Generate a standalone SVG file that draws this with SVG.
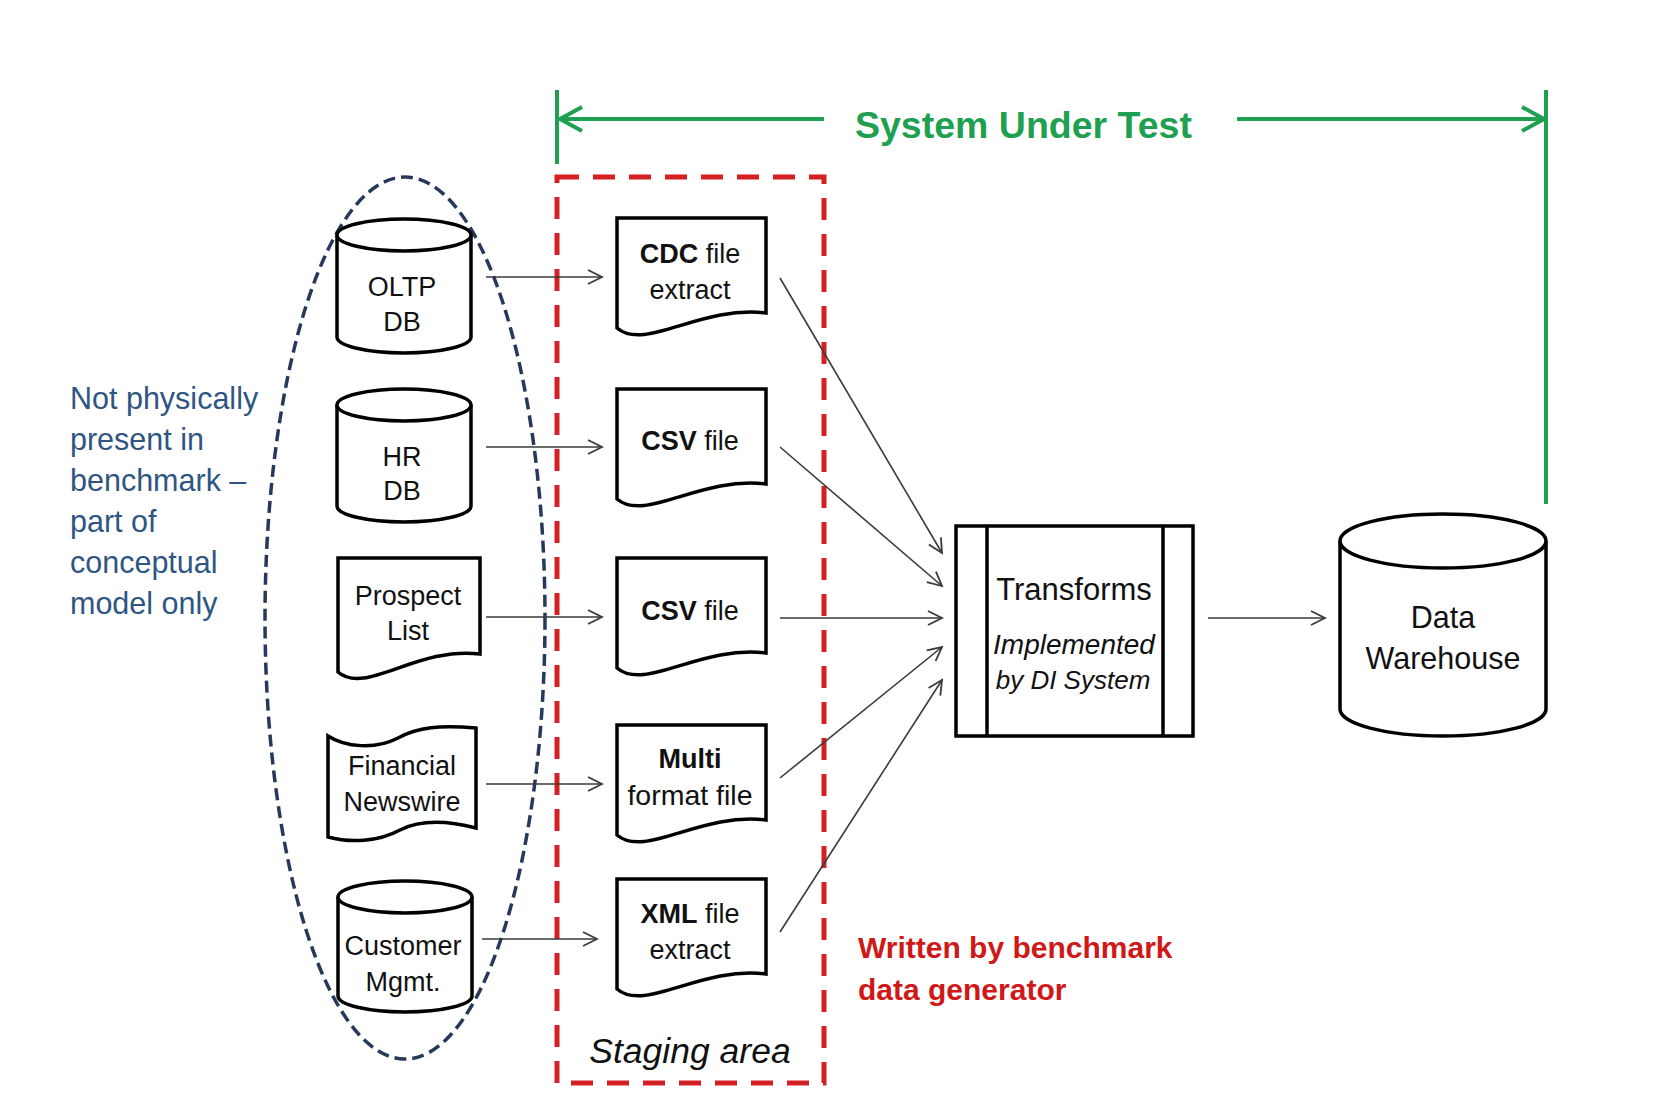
<svg xmlns="http://www.w3.org/2000/svg" width="1660" height="1118" viewBox="0 0 1660 1118">
<style>
.shape{fill:#fff;stroke:#000;stroke-width:3.5}
.lbl{font-family:"Liberation Sans",Arial,sans-serif;font-size:27px;fill:#111;text-anchor:middle}
.b{font-weight:bold}
.conn{stroke:#3a3a3a;stroke-width:1.6;fill:none;marker-end:url(#ah)}
.green{stroke:#1ea050;stroke-width:4;fill:none}
</style>
<defs>
<marker id="ah" markerUnits="userSpaceOnUse" markerWidth="18" markerHeight="18" refX="15" refY="8" orient="auto">
<path d="M1,1 L15,8 L1,15" fill="none" stroke="#3a3a3a" stroke-width="1.8"/>
</marker>
<marker id="gh" markerUnits="userSpaceOnUse" markerWidth="30" markerHeight="30" refX="24" refY="14" orient="auto">
<path d="M2,2 L24,14 L2,26" fill="none" stroke="#1ea050" stroke-width="4"/>
</marker>
</defs>
<rect width="1660" height="1118" fill="#fff"/>

<!-- System under test bracket -->
<g id="sut">
<line class="green" x1="557" y1="90" x2="557" y2="164"/>
<line class="green" x1="824" y1="119" x2="560" y2="119" marker-end="url(#gh)"/>
<line class="green" x1="1237" y1="119" x2="1544" y2="119" marker-end="url(#gh)"/>
<line class="green" x1="1546" y1="90" x2="1546" y2="504"/>
<text x="855" y="138" font-family="Liberation Sans,Arial,sans-serif" font-size="37.5" font-weight="bold" fill="#1ea050">System Under Test</text>
</g>

<!-- conceptual sources ellipse -->
<g id="conceptual">
<ellipse cx="405" cy="618" rx="140" ry="441" fill="none" stroke="#26395a" stroke-width="3.5" stroke-dasharray="12 6"/>
<text font-family="Liberation Sans,Arial,sans-serif" font-size="30.5" fill="#2f5583">
<tspan x="70" y="409">Not physically</tspan>
<tspan x="70" y="450">present in</tspan>
<tspan x="70" y="491">benchmark –</tspan>
<tspan x="70" y="532">part of</tspan>
<tspan x="70" y="573">conceptual</tspan>
<tspan x="70" y="614">model only</tspan>
</text>
</g>

<!-- staging area -->
<g id="staging">
<rect x="557" y="177" width="267" height="906" fill="none" stroke="#d42020" stroke-width="5" stroke-dasharray="22 14"/>
<text x="690" y="1063" font-family="Liberation Sans,Arial,sans-serif" font-size="35.5" font-style="italic" fill="#111" text-anchor="middle">Staging area</text>
</g>

<g id="oltp">
<path class="shape" d="M337,235 V337 A67,16 0 0 0 471,337 V235"/>
<ellipse class="shape" cx="404" cy="235" rx="67" ry="16"/>
<text class="lbl" x="402" y="296">OLTP</text>
<text class="lbl" x="402" y="331">DB</text>
</g>

<g id="hr">
<path class="shape" d="M337,405 V506 A67,16 0 0 0 471,506 V405"/>
<ellipse class="shape" cx="404" cy="405" rx="67" ry="16"/>
<text class="lbl" x="402" y="466">HR</text>
<text class="lbl" x="402" y="500">DB</text>
</g>

<g id="prospect">
<path class="shape" d="M338,558 H480 V654 C417,646 365,696 338,672 Z"/>
<text class="lbl" x="408" y="605">Prospect</text>
<text class="lbl" x="408" y="640">List</text>
</g>

<g id="newswire">
<path class="shape" d="M328,736 C345,747 375,750 398,738 C418,727 440,725 476,728 L476,828 C445,820 420,820 400,830 C378,842 350,843 328,837 Z"/>
<text class="lbl" x="402" y="775">Financial</text>
<text class="lbl" x="402" y="811">Newswire</text>
</g>

<g id="customer">
<path class="shape" d="M338,897 V996 A67,16 0 0 0 472,996 V897"/>
<ellipse class="shape" cx="405" cy="897" rx="67" ry="16"/>
<text class="lbl" x="403" y="955">Customer</text>
<text class="lbl" x="403" y="991">Mgmt.</text>
</g>

<g id="cdc">
<path class="shape" d="M617,218 H766 V313 C700,305 645,352 617,328 Z"/>
<text class="lbl" x="690" y="263"><tspan class="b">CDC</tspan> file</text>
<text class="lbl" x="690" y="299">extract</text>
</g>

<g id="csv1">
<path class="shape" d="M617,389 H766 V484 C700,476 645,523 617,499 Z"/>
<text class="lbl" x="690" y="450"><tspan class="b">CSV</tspan> file</text>
</g>

<g id="csv2">
<path class="shape" d="M617,558 H766 V653 C700,645 645,692 617,668 Z"/>
<text class="lbl" x="690" y="620"><tspan class="b">CSV</tspan> file</text>
</g>

<g id="multi">
<path class="shape" d="M617,725 H766 V820 C700,812 645,859 617,835 Z"/>
<text class="lbl b" x="690" y="768">Multi</text>
<text class="lbl" x="690" y="805" style="font-size:28.5px">format file</text>
</g>

<g id="xml">
<path class="shape" d="M617,879 H766 V974 C700,966 645,1013 617,989 Z"/>
<text class="lbl" x="690" y="923"><tspan class="b">XML</tspan> file</text>
<text class="lbl" x="690" y="959">extract</text>
</g>

<g id="transforms">
<rect class="shape" x="956" y="526" width="237" height="210"/>
<line x1="987" y1="526" x2="987" y2="736" stroke="#000" stroke-width="3.5"/>
<line x1="1163" y1="526" x2="1163" y2="736" stroke="#000" stroke-width="3.5"/>
<text class="lbl" x="1074" y="600" style="font-size:31px">Transforms</text>
<text class="lbl" x="1074" y="654" style="font-size:28px;font-style:italic">Implemented</text>
<text class="lbl" x="1073" y="689" style="font-size:26px;font-style:italic">by DI System</text>
</g>

<g id="warehouse">
<path class="shape" d="M1340,541 V709 A103,27 0 0 0 1546,709 V541"/>
<ellipse class="shape" cx="1443" cy="541" rx="103" ry="27"/>
<text class="lbl" x="1443" y="628" style="font-size:30.5px">Data</text>
<text class="lbl" x="1443" y="669" style="font-size:30.5px">Warehouse</text>
</g>

<g id="note">
<text font-family="Liberation Sans,Arial,sans-serif" font-size="30" font-weight="bold" fill="#d01818">
<tspan x="858" y="958">Written by benchmark</tspan>
<tspan x="858" y="1000">data generator</tspan>
</text>
</g>

<g id="connectors">
<line class="conn" x1="486" y1="277" x2="602" y2="277"/>
<line class="conn" x1="486" y1="447" x2="602" y2="447"/>
<line class="conn" x1="486" y1="617" x2="602" y2="617"/>
<line class="conn" x1="486" y1="784" x2="602" y2="784"/>
<line class="conn" x1="482" y1="939" x2="597" y2="939"/>
<line class="conn" x1="780" y1="278" x2="942" y2="553"/>
<line class="conn" x1="780" y1="447" x2="942" y2="586"/>
<line class="conn" x1="780" y1="618" x2="942" y2="618"/>
<line class="conn" x1="780" y1="778" x2="942" y2="647"/>
<line class="conn" x1="780" y1="932" x2="942" y2="680"/>
<line class="conn" x1="1208" y1="618" x2="1325" y2="618"/>
</g>
</svg>
